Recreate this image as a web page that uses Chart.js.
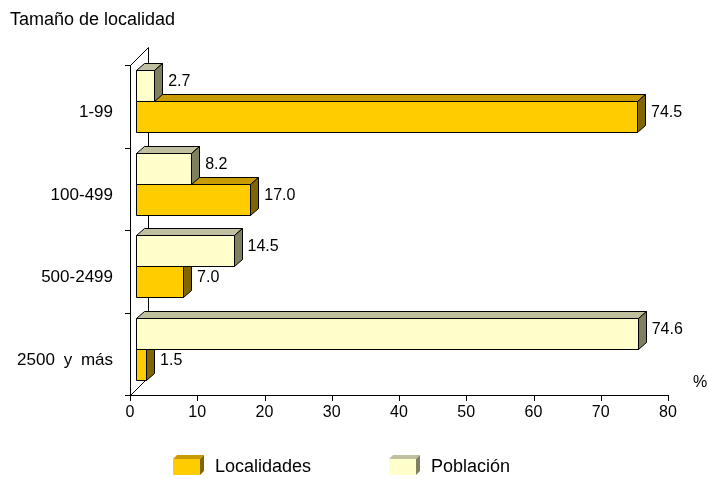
<!DOCTYPE html>
<html>
<head>
<meta charset="utf-8">
<script src="https://cdn.jsdelivr.net/npm/chart.js@4.4.1/dist/chart.umd.min.js"></script>
<style>
  html, body { margin: 0; padding: 0; background: #fff; }
  #chart { display: block; }
</style>
</head>
<body>
<canvas id="chart" width="708" height="479"></canvas>
<script>
const categories = ['1-99', '100-499', '500-2499', '2500 y más'];
const poblacion = [2.7, 8.2, 14.5, 74.6];
const localidades = [74.5, 17.0, 7.0, 1.5];
const xTicks = [0, 10, 20, 30, 40, 50, 60, 70, 80];

const FONT = '"Liberation Sans", Arial, sans-serif';

// face colours: front, top, side
const shades = {
    'Población': ['#ffffcc', '#c0c0a0', '#808060'],
    'Localidades': ['#ffcc00', '#c89b00', '#806600'],
};

const BAR_SHIFT = { x: 6, y: -5 };   // bars sit inside the 3D wall
const BAR_DEPTH = { x: 8, y: -7 };
const WALL_DEPTH = { x: 18, y: -18 };

function text(ctx, str, x, y, size, align) {
    ctx.font = size + 'px ' + FONT;
    ctx.fillStyle = '#000';
    ctx.textAlign = align || 'left';
    ctx.textBaseline = 'middle';
    ctx.fillText(str, x, y);
}

function poly(ctx, pts, fill, stroke) {
    ctx.beginPath();
    ctx.moveTo(pts[0][0], pts[0][1]);
    for (let i = 1; i < pts.length; i++) ctx.lineTo(pts[i][0], pts[i][1]);
    ctx.closePath();
    ctx.fillStyle = fill;
    ctx.fill();
    if (stroke) {
        ctx.strokeStyle = stroke;
        ctx.lineWidth = 1;
        ctx.stroke();
    }
}

function box3d(ctx, l, t, r, b, cols, d, stroke) {
    poly(ctx, [[l, t], [r, t], [r, b], [l, b]], cols[0], stroke);
    poly(ctx, [[l, t], [l + d.x, t + d.y], [r + d.x, t + d.y], [r, t]], cols[1], stroke);
    poly(ctx, [[r, t], [r + d.x, t + d.y], [r + d.x, b + d.y], [r, b]], cols[2], stroke);
}

const bars3d = {
    id: 'bars3d',
    beforeDatasetsDraw(chart) {
        const { ctx, chartArea: a } = chart;
        // back wall edges
        ctx.save();
        ctx.strokeStyle = '#000';
        ctx.lineWidth = 1;
        ctx.beginPath();
        ctx.moveTo(a.left + 0.5, a.top + 0.5);
        ctx.lineTo(a.left + WALL_DEPTH.x + 0.5, a.top + WALL_DEPTH.y + 0.5);
        ctx.lineTo(a.left + WALL_DEPTH.x + 0.5, a.bottom + WALL_DEPTH.y + 0.5);
        ctx.lineTo(a.left + 0.5, a.bottom + 0.5);
        ctx.stroke();
        ctx.restore();

        ctx.save();
        ctx.translate(BAR_SHIFT.x, BAR_SHIFT.y);
    },
    afterDatasetDraw(chart, args) {
        const ctx = chart.ctx;
        const ds = chart.data.datasets[args.index];
        const cols = shades[ds.label];
        args.meta.data.forEach(el => {
            const p = el.getProps(['x', 'y', 'base', 'height'], true);
            const l = Math.round(Math.min(p.x, p.base)) + 0.5;
            const r = Math.round(Math.max(p.x, p.base)) + 0.5;
            const t = Math.round(p.y - p.height / 2) + 0.5;
            const b = Math.round(p.y + p.height / 2) + 0.5;
            box3d(ctx, l, t, r, b, cols, BAR_DEPTH, '#000');
        });
    },
    afterDatasetsDraw(chart) {
        const { ctx, chartArea: a, scales } = chart;
        ctx.restore();

        ctx.save();
        ctx.strokeStyle = '#000';
        ctx.lineWidth = 1;
        // axes
        ctx.beginPath();
        ctx.moveTo(a.left + 0.5, a.top);
        ctx.lineTo(a.left + 0.5, a.bottom + 0.5);
        ctx.lineTo(a.right, a.bottom + 0.5);
        ctx.stroke();

        // category boundary ticks
        const band = (a.bottom - a.top) / categories.length;
        ctx.beginPath();
        for (let i = 0; i <= categories.length; i++) {
            const y = Math.round(a.top + i * band) + 0.5;
            ctx.moveTo(a.left - 5, y);
            ctx.lineTo(a.left, y);
        }
        // value ticks
        xTicks.forEach(v => {
            const x = Math.round(scales.x.getPixelForValue(v)) + 0.5;
            ctx.moveTo(x, a.bottom);
            ctx.lineTo(x, a.bottom + 6);
        });
        ctx.stroke();

        xTicks.forEach(v => {
            text(ctx, String(v), scales.x.getPixelForValue(v), a.bottom + 18, 16, 'center');
        });
        categories.forEach((c, i) => {
            ctx.wordSpacing = c.indexOf(' ') >= 0 ? '4px' : '0px';
            text(ctx, c, a.left - 17, scales.y.getPixelForValue(i) + 6.5, 17, 'right');
        });
        ctx.wordSpacing = '0px';

        // value labels
        chart.data.datasets.forEach((ds, di) => {
            chart.getDatasetMeta(di).data.forEach((el, i) => {
                const p = el.getProps(['x', 'y'], true);
                text(ctx, ds.data[i].toFixed(1),
                    p.x + BAR_SHIFT.x + BAR_DEPTH.x + 6,
                    p.y + BAR_SHIFT.y - 4, 16, 'left');
            });
        });

        text(ctx, '%', 700, 383, 16, 'center');
        text(ctx, 'Tamaño de localidad', 10, 20, 18, 'left');

        // legend
        const items = [
            { label: 'Localidades', x: 173 },
            { label: 'Población', x: 389 },
        ];
        items.forEach(it => {
            box3d(ctx, it.x, 459, it.x + 27, 475, shades[it.label], { x: 4, y: -4 }, null);
            text(ctx, it.label, it.x + 42, 467, 18, 'left');
        });
        ctx.restore();
    },
};

new Chart(document.getElementById('chart'), {
    type: 'bar',
    data: {
        labels: categories,
        datasets: [
            {
                label: 'Población',
                data: poblacion,
                backgroundColor: shades['Población'][0],
                borderWidth: 0,
                clip: false,
            },
            {
                label: 'Localidades',
                data: localidades,
                backgroundColor: shades['Localidades'][0],
                borderWidth: 0,
                clip: false,
            },
        ],
    },
    options: {
        indexAxis: 'y',
        responsive: false,
        animation: false,
        devicePixelRatio: 1,
        categoryPercentage: 0.75,
        barPercentage: 1,
        layout: {
            padding: { top: 65, bottom: 84, left: 130, right: 40 },
        },
        scales: {
            x: { min: 0, max: 80, display: false },
            y: { display: false },
        },
        plugins: {
            legend: { display: false },
            tooltip: { enabled: false },
        },
    },
    plugins: [bars3d],
});
</script>
</body>
</html>
